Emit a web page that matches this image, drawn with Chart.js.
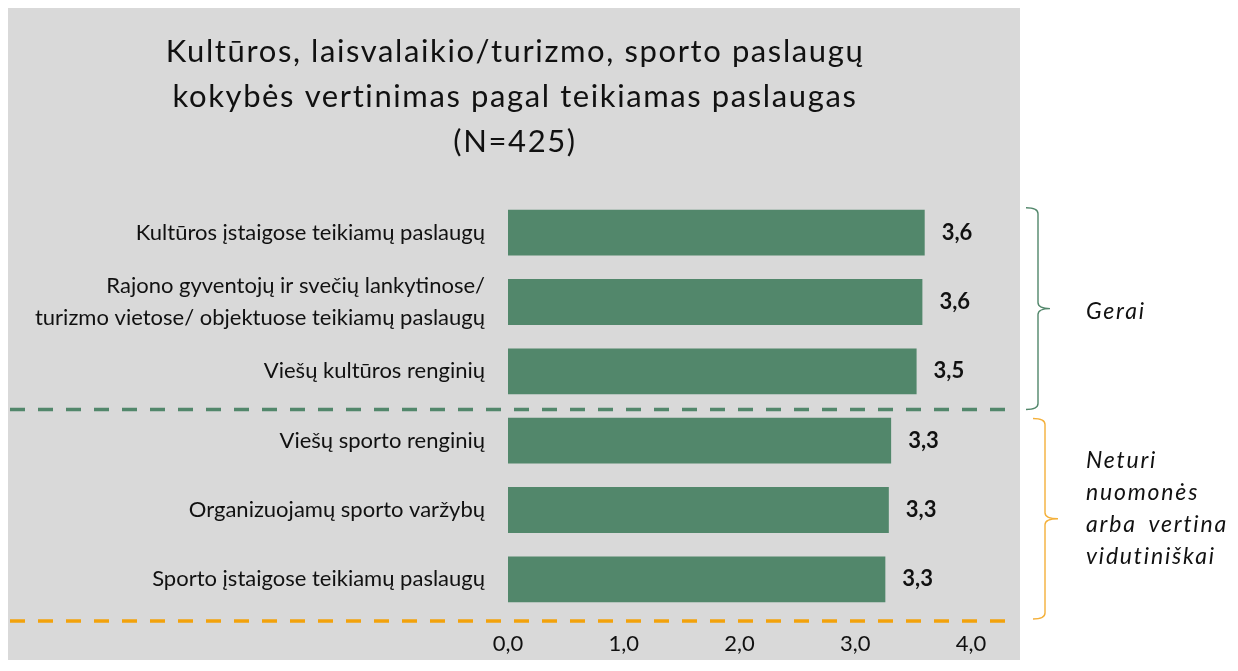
<!DOCTYPE html>
<html>
<head>
<meta charset="utf-8">
<script src="https://cdn.jsdelivr.net/npm/chart.js@4.4.0/dist/chart.umd.min.js"></script>
<style>
  html, body { margin: 0; padding: 0; background: #ffffff; }
  #wrap { width: 1238px; height: 671px; }
</style>
</head>
<body>
<div id="wrap"><canvas id="c" width="1238" height="671"></canvas></div>
<script>
// ---- data ----
const titleLines = ['Kultūros, laisvalaikio/turizmo, sporto paslaugų', 'kokybės vertinimas pagal teikiamas paslaugas', '(N=425)'];
const categories = [
  'Kultūros įstaigose teikiamų paslaugų',
  ['Rajono gyventojų ir svečių lankytinose/', 'turizmo vietose/ objektuose teikiamų paslaugų'],
  'Viešų kultūros renginių',
  'Viešų sporto renginių',
  'Organizuojamų sporto varžybų',
  'Sporto įstaigose teikiamų paslaugų'
];
const values = [3.60, 3.58, 3.53, 3.31, 3.29, 3.26];
const xTicks = [0, 1, 2, 3, 4];
const groupGood = ['Gerai'];
const groupNeutral = ['Neturi', 'nuomonės', 'arba', 'vertina', 'vidutiniškai'];

const FONT = 'Lato, "Open Sans", sans-serif';
const GREEN = '#52876B';
const ORANGE = '#F2A20C';
const ORANGE_BRACE = '#F4B03A';
const fmt = v => v.toFixed(1).replace('.', ',');

const decorPlugin = {
  id: 'decor',
  beforeDraw(chart) {
    const ctx = chart.ctx;
    ctx.save();
    ctx.fillStyle = '#D9D9D9';
    ctx.fillRect(8, 8, 1012, 652);
    // title
    ctx.fillStyle = '#111111';
    ctx.font = '400 31px ' + FONT;
    if ('letterSpacing' in ctx) ctx.letterSpacing = '1.6px';
    ctx.textAlign = 'center';
    ctx.textBaseline = 'alphabetic';
    const baselines = [62, 107, 152];
    titleLines.forEach((t, i) => ctx.fillText(t, 515, baselines[i]));
    ctx.restore();
  },
  afterDatasetsDraw(chart) {
    const ctx = chart.ctx;
    const ys = chart.scales.y;
    const meta = chart.getDatasetMeta(0);
    ctx.save();
    // value labels
    ctx.fillStyle = '#111111';
    ctx.font = 'bold 22px ' + FONT;
    ctx.textAlign = 'left';
    ctx.textBaseline = 'middle';
    meta.data.forEach((bar, i) => {
      ctx.fillText(fmt(values[i]), bar.x + 17, bar.y);
    });
    // dashed separators
    const step = ys.getPixelForValue(1) - ys.getPixelForValue(0);
    const yGreen = ys.getPixelForValue(2) + 0.55 * step;
    const yOrange = ys.getPixelForValue(5) + 0.6 * step;
    ctx.lineWidth = 3.5;
    ctx.setLineDash([15, 13]);
    ctx.strokeStyle = GREEN;
    ctx.beginPath(); ctx.moveTo(10, yGreen); ctx.lineTo(1012, yGreen); ctx.stroke();
    ctx.strokeStyle = ORANGE;
    ctx.beginPath(); ctx.moveTo(10, yOrange); ctx.lineTo(1012, yOrange); ctx.stroke();
    ctx.setLineDash([]);
    // braces
    function brace(x0, x1, x2, top, bot, color) {
      const mid = (top + bot) / 2;
      const r = 6;
      ctx.strokeStyle = color;
      ctx.lineWidth = 1.4;
      ctx.beginPath();
      ctx.moveTo(x0, top);
      ctx.quadraticCurveTo(x1, top, x1, top + r);
      ctx.lineTo(x1, mid - r);
      ctx.quadraticCurveTo(x1, mid, x2, mid);
      ctx.quadraticCurveTo(x1, mid, x1, mid + r);
      ctx.lineTo(x1, bot - r);
      ctx.quadraticCurveTo(x1, bot, x0, bot);
      ctx.stroke();
    }
    const gTop = ys.getPixelForValue(0) - 0.36 * step;
    brace(1026, 1038, 1050, gTop, yGreen, GREEN);
    brace(1033, 1045, 1058, yGreen + 9, yOrange - 2, ORANGE_BRACE);
    // group labels
    ctx.fillStyle = '#111111';
    ctx.font = 'italic 23px ' + FONT;
    if ('letterSpacing' in ctx) ctx.letterSpacing = '1.8px';
    ctx.textAlign = 'left';
    ctx.textBaseline = 'alphabetic';
    const lx = 1086;
    ctx.fillText(groupGood[0], lx, 319);
    ctx.fillText(groupNeutral[0], lx, 468);
    ctx.fillText(groupNeutral[1], lx, 500);
    ctx.fillText(groupNeutral[2], lx, 532);
    ctx.textAlign = 'right';
    ctx.fillText(groupNeutral[3], 1228, 532);
    ctx.textAlign = 'left';
    ctx.fillText(groupNeutral[4], lx, 564);
    ctx.restore();
  }
};

new Chart(document.getElementById('c'), {
  type: 'bar',
  data: {
    labels: categories,
    datasets: [{
      data: values,
      backgroundColor: GREEN,
      borderWidth: 0,
      categoryPercentage: 1,
      barPercentage: 0.66
    }]
  },
  options: {
    indexAxis: 'y',
    responsive: false,
    animation: false,
    devicePixelRatio: 1,
    layout: { padding: { top: 198, right: 267, bottom: 17, left: 0 } },
    plugins: { legend: { display: false }, tooltip: { enabled: false } },
    scales: {
      x: {
        min: 0, max: 4,
        afterFit(s) { s.height = 40; },
        afterBuildTicks(s) { s.ticks = xTicks.map(v => ({ value: v })); },
        grid: { display: false, drawTicks: false },
        border: { display: false },
        ticks: {
          color: '#111111',
          font: { family: FONT, size: 22 },
          padding: 17,
          callback: v => fmt(v)
        }
      },
      y: {
        afterFit(s) { s.width = 508; },
        grid: { display: false, drawTicks: false },
        border: { display: false },
        ticks: {
          color: '#111111',
          font: { family: FONT, size: 22, lineHeight: 1.45 },
          padding: 23
        }
      }
    }
  },
  plugins: [decorPlugin]
});
</script>
</body>
</html>
